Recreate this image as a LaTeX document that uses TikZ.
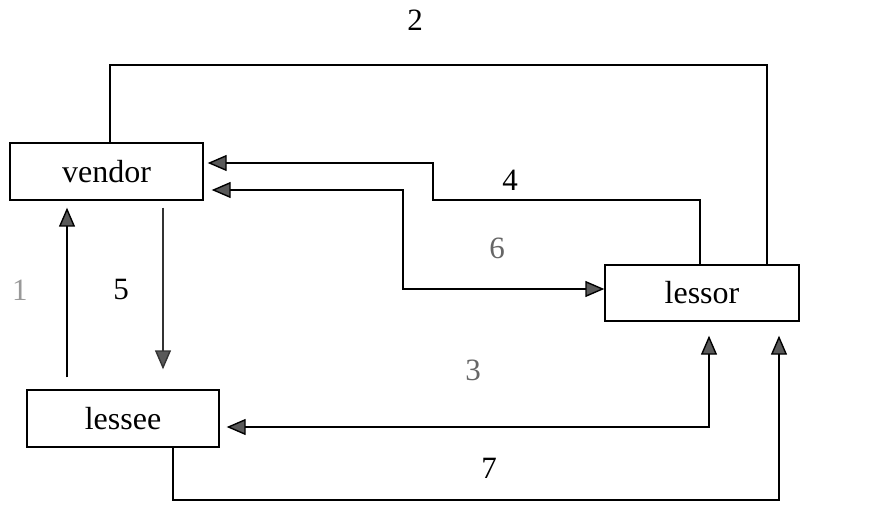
\documentclass[tikz,border=0pt]{standalone}
\usepackage{fontspec}
\setmainfont{Liberation Serif}
\usetikzlibrary{arrows.meta}
\begin{document}
\begin{tikzpicture}[x=1pt,y=-1pt,
  party/.style={draw,line width=1.4pt,minimum height=57pt,inner sep=0pt,font=\fontsize{32}{34}\selectfont},
  conn/.style={line width=1.4pt},
  tip/.tip={Triangle[length=19pt,width=16pt,fill=black!65]},
  num/.style={font=\fontsize{31}{33}\selectfont}]
\useasboundingbox (0,0) rectangle (876,505);

% parties
\node[party,minimum width=193pt] (vendor) at (106.5,171.5) {vendor};
\node[party,minimum width=194pt,minimum height=56pt] (lessor) at (702,293) {lessor};
\node[party,minimum width=192pt] (lessee) at (123,418.5) {lessee};

% bend points
\coordinate (top2) at (400,65);
\coordinate (b4) at (433,200);
\coordinate (c6) at (403,240);
\coordinate (c7) at (400,500);

% 2: vendor -- lessor over the top
\draw[conn] ([xshift=3.5pt]vendor.north) |- (top2) -| ([xshift=65pt]lessor.north);
% 4: lessor -> vendor
\draw[conn,-tip,shorten >=4pt] ([xshift=-2pt]lessor.north) |- (b4) |- ([yshift=8.5pt]vendor.east);
% 6: vendor <-> lessor
\draw[conn,tip-tip,shorten <=8pt] ([yshift=-18.5pt]vendor.east) -| (c6) |- ([yshift=4pt]lessor.west);
% 1: lessee -> vendor
\draw[conn,-tip,shorten <=12pt,shorten >=7pt] ([xshift=-56pt]lessee.north) -- ([xshift=-56pt]lessee.north |- vendor.south);
% 5: vendor -> lessee
\draw[conn,black!80,-tip,shorten <=7pt,shorten >=20pt] ([xshift=56.5pt]vendor.south) -- ([xshift=56.5pt]vendor.south |- lessee.north);
% 3: lessee <-> lessor
\draw[conn,tip-tip,shorten <=7pt,shorten >=14pt] ([yshift=-8.5pt]lessee.east) -| ([xshift=7pt]lessor.south);
% 7: lessee -> lessor along the bottom
\draw[conn,-tip,shorten >=14pt] ([xshift=50pt]lessee.south) |- (c7) -| ([xshift=77pt]lessor.south);

% step numbers
\node[num] (n2) at (415,20) {2};
\node[num] (n4) at (510,180) {4};
\node[num,black!60] (n6) at (497,248) {6};
\node[num,black!40] (n1) at (20,290) {1};
\node[num] (n5) at (121,290) {5};
\node[num,black!60] (n3) at (473,370) {3};
\node[num] (n7) at (489,468) {7};
\end{tikzpicture}
\end{document}
